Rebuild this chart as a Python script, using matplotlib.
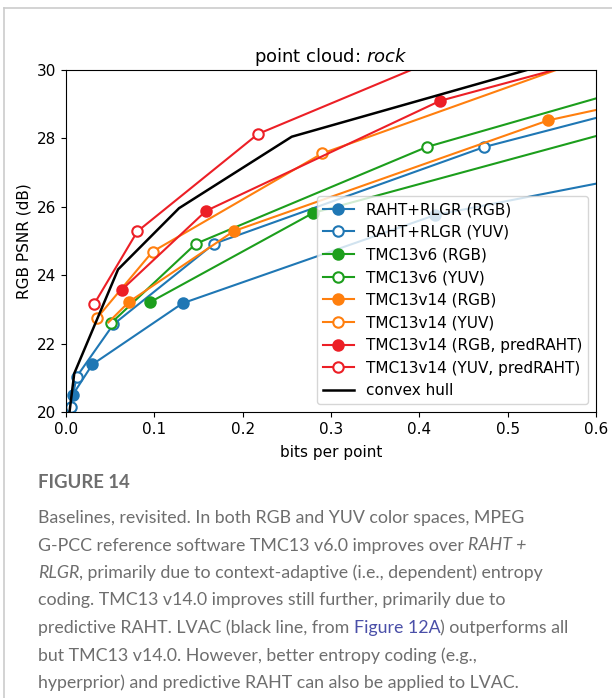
import matplotlib
matplotlib.use("Agg")
import matplotlib.pyplot as plt
from matplotlib.lines import Line2D

# data (bits per point, RGB PSNR in dB)
raht_rgb_x = [0.0076, 0.0298, 0.132, 0.418, 0.70]
raht_rgb_y = [20.50, 21.39, 23.18, 25.76, 27.18]
raht_yuv_x = [0.0053, 0.012, 0.0536, 0.1676, 0.4737, 0.70]
raht_yuv_y = [20.14, 21.03, 22.56, 24.92, 27.75, 29.27]
tmc6_rgb_x = [0.0951, 0.2797, 0.70]
tmc6_rgb_y = [23.21, 25.82, 28.77]
tmc6_yuv_x = [0.0506, 0.147, 0.4085, 0.70]
tmc6_yuv_y = [22.59, 24.92, 27.75, 29.91]
tmc14_rgb_x = [0.048, 0.0713, 0.190, 0.5462, 0.70]
tmc14_rgb_y = [22.62, 23.22, 25.29, 28.53, 29.39]
tmc14_yuv_x = [0.0355, 0.098, 0.290, 0.62]
tmc14_yuv_y = [22.76, 24.69, 27.56, 30.6]
pred_rgb_x = [0.063, 0.1585, 0.4236, 0.62]
pred_rgb_y = [23.57, 25.88, 29.10, 30.47]
pred_yuv_x = [0.0317, 0.0808, 0.2174, 0.45]
pred_yuv_y = [23.15, 25.28, 28.13, 30.64]
hull_x = [0.004, 0.0094, 0.059, 0.128, 0.2556, 0.65]
hull_y = [20.0, 21.13, 24.17, 25.96, 28.05, 30.94]

BLUE = "#1f77b4"
GREEN = "#1c9e1c"
ORANGE = "#ff7f0e"
RED = "#ec1f26"

fig = plt.figure(figsize=(6.12, 6.98), dpi=100)
ax = fig.add_axes([0.1078, 0.4097, 0.866, 0.49])

ms = 7.5
def curve(x, y, c, filled, label, skip_first=False):
    every = list(range(1, len(x))) if skip_first else None
    ax.plot(x, y, "-o", color=c, lw=1.5, ms=ms, mew=1.5, markevery=every,
            mfc=c if filled else "white", label=label)

curve(raht_rgb_x, raht_rgb_y, BLUE, True, "RAHT+RLGR (RGB)")
curve(raht_yuv_x, raht_yuv_y, BLUE, False, "RAHT+RLGR (YUV)")
curve(tmc6_rgb_x, tmc6_rgb_y, GREEN, True, "TMC13v6 (RGB)")
curve(tmc6_yuv_x, tmc6_yuv_y, GREEN, False, "TMC13v6 (YUV)")
# first orange point sits under the green ring in the picture
curve(tmc14_rgb_x, tmc14_rgb_y, ORANGE, True, "TMC13v14 (RGB)", skip_first=True)
curve(tmc14_yuv_x, tmc14_yuv_y, ORANGE, False, "TMC13v14 (YUV)")
curve(pred_rgb_x, pred_rgb_y, RED, True, "TMC13v14 (RGB, predRAHT)")
curve(pred_yuv_x, pred_yuv_y, RED, False, "TMC13v14 (YUV, predRAHT)")
ax.plot(hull_x, hull_y, "-", color="black", lw=1.8, label="convex hull")

ax.set_xlim(0, 0.6)
ax.set_ylim(20, 30)
ax.set_xticks([0.0, 0.1, 0.2, 0.3, 0.4, 0.5, 0.6])
ax.set_yticks([20, 22, 24, 26, 28, 30])
ax.tick_params(labelsize=11)
ax.set_xlabel("bits per point", fontsize=11, labelpad=6)
ax.set_ylabel("RGB PSNR (dB)", fontsize=11)
ax.set_title(r"point cloud: $\it{rock}$", fontsize=13)
ax.legend(loc="lower right", fontsize=11, handlelength=2.0)

# grey frame of the page
fig.add_artist(Line2D([0.0065, 0.0065], [0, 0.9885], color="#cccccc", lw=1.2))
fig.add_artist(Line2D([0.0065, 1.0], [0.9885, 0.9885], color="#cccccc", lw=1.2))

# caption
GREY = "#6e6e6e"
CAP_FONT = "Lato"
fig.text(38 / 612, 1 - 483 / 698, "FIGURE 14", family=CAP_FONT, weight="bold",
         fontsize=13.3, color=GREY, va="center")

renderer = fig.canvas.get_renderer()

def width_of(s, **kw):
    t = fig.text(0, 0, s, **kw)
    w = t.get_window_extent(renderer).width
    t.remove()
    return w

cap_kw = dict(family=CAP_FONT, fontsize=12.8)
space_w = width_of("x x", **cap_kw) - width_of("xx", **cap_kw)

caption = [
    [("Baselines, revisited. In both RGB and YUV color spaces, MPEG", "n")],
    [("G-PCC reference software TMC13 v6.0 improves over", "n"), ("RAHT +", "i")],
    [("RLGR", "i"), (", primarily due to context-adaptive (i.e., dependent) entropy", "n")],
    [("coding. TMC13 v14.0 improves still further, primarily due to", "n")],
    [("predictive RAHT. LVAC (black line, from", "n"), ("Figure 12A", "l"),
     (") outperforms all", "n")],
    [("but TMC13 v14.0. However, better entropy coding (e.g.,", "n")],
    [("hyperprior) and predictive RAHT can also be applied to LVAC.", "n")],
]

y0 = 518
for i, parts in enumerate(caption):
    xpx = 38
    ypx = y0 + i * 27.5
    for j, (txt, st) in enumerate(parts):
        kw = dict(cap_kw)
        kw["color"] = GREY
        if st == "i":
            kw["style"] = "italic"
        if st == "l":
            kw["color"] = "#4a4fa8"
        if j > 0 and not txt.startswith((",", ")")):
            xpx += space_w
        t = fig.text(xpx / 612, 1 - ypx / 698, txt, va="center", **kw)
        xpx += t.get_window_extent(renderer).width

fig.savefig("out.png", dpi=100)
